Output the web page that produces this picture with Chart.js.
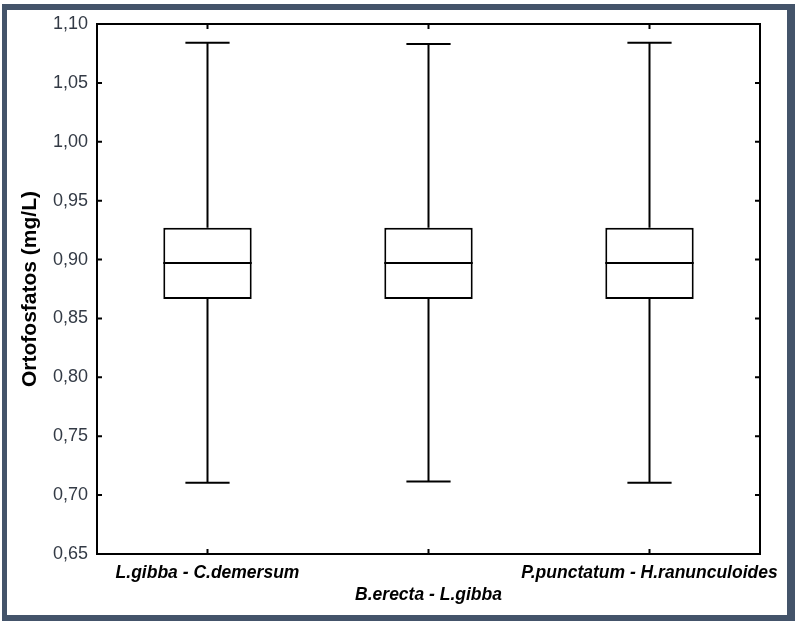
<!DOCTYPE html>
<html>
<head>
<meta charset="utf-8">
<script src="https://cdn.jsdelivr.net/npm/chart.js@4/dist/chart.umd.min.js"></script>
<style>
  html, body { margin: 0; padding: 0; background: #fff; }
  #wrap { position: relative; width: 795px; height: 626px; overflow: hidden; }
  #frame {
    position: absolute; left: 2px; top: 4px; right: 0; bottom: 5px;
    border-style: solid; border-color: #44546a;
    border-width: 6px 8px 6px 5px;
  }
  #chart { position: absolute; left: 0; top: 0; }
</style>
</head>
<body>
<div id="wrap">
  <div id="frame"></div>
  <canvas id="chart" width="795" height="626"></canvas>
</div>
<script>
  // box plot values
  var categories   = ['L.gibba - C.demersum', 'B.erecta - L.gibba', 'P.punctatum - H.ranunculoides'];
  var minValues    = [0.7105, 0.7115, 0.7105];
  var q1Values     = [0.8665, 0.8665, 0.8665];
  var medianValues = [0.897, 0.897, 0.897];
  var q3Values     = [0.927, 0.927, 0.927];
  var maxValues    = [1.084, 1.083, 1.084];
  var yTickValues  = [0.65, 0.70, 0.75, 0.80, 0.85, 0.90, 0.95, 1.00, 1.05, 1.10];
  var yTickLabels  = ['0,65', '0,70', '0,75', '0,80', '0,85', '0,90', '0,95', '1,00', '1,05', '1,10'];

  function tickLabel(v) {
    for (var i = 0; i < yTickValues.length; i++) {
      if (Math.abs(yTickValues[i] - v) < 1e-6) return yTickLabels[i];
    }
    return '';
  }

  // whiskers, medians, frame and inward tick marks
  var boxPlugin = {
    id: 'boxExtras',
    afterDatasetsDraw: function (chart) {
      var ctx = chart.ctx;
      var x = chart.scales.x, y = chart.scales.y;
      var area = chart.chartArea;
      var catW = x.width / categories.length;
      var capHalf = catW * 0.1;
      var boxHalf = catW * 0.2;

      ctx.save();
      ctx.strokeStyle = '#000';
      ctx.lineWidth = 2;
      ctx.lineCap = 'butt';

      categories.forEach(function (c, i) {
        var cx = x.getPixelForValue(i);
        var yMin = y.getPixelForValue(minValues[i]);
        var yMax = y.getPixelForValue(maxValues[i]);
        var yQ1 = y.getPixelForValue(q1Values[i]);
        var yQ3 = y.getPixelForValue(q3Values[i]);
        var yMed = y.getPixelForValue(medianValues[i]);

        ctx.beginPath();
        ctx.moveTo(cx, yQ3); ctx.lineTo(cx, yMax);
        ctx.moveTo(cx, yQ1); ctx.lineTo(cx, yMin);
        ctx.moveTo(cx - capHalf, yMax); ctx.lineTo(cx + capHalf, yMax);
        ctx.moveTo(cx - capHalf, yMin); ctx.lineTo(cx + capHalf, yMin);
        ctx.moveTo(cx - boxHalf, yMed); ctx.lineTo(cx + boxHalf, yMed);
        ctx.stroke();
      });

      // plot frame
      ctx.strokeRect(area.left, area.top, area.right - area.left, area.bottom - area.top);

      // inward ticks
      ctx.beginPath();
      yTickValues.forEach(function (v) {
        var py = y.getPixelForValue(v);
        ctx.moveTo(area.left, py); ctx.lineTo(area.left + 5, py);
        ctx.moveTo(area.right, py); ctx.lineTo(area.right - 5, py);
      });
      categories.forEach(function (c, i) {
        var px = x.getPixelForValue(i);
        ctx.moveTo(px, area.bottom); ctx.lineTo(px, area.bottom - 5);
        ctx.moveTo(px, area.top); ctx.lineTo(px, area.top + 5);
      });
      ctx.stroke();
      ctx.restore();
    }
  };

  new Chart(document.getElementById('chart'), {
    type: 'bar',
    data: {
      labels: categories,
      datasets: [{
        data: categories.map(function (c, i) { return [q1Values[i], q3Values[i]]; }),
        backgroundColor: '#ffffff',
        borderColor: '#000000',
        borderWidth: 2,
        borderSkipped: false,
        barPercentage: 0.4,
        categoryPercentage: 1.0
      }]
    },
    plugins: [boxPlugin],
    options: {
      responsive: false,
      animation: false,
      devicePixelRatio: 1,
      layout: { padding: { top: 24, right: 35, left: 0, bottom: 0 }, autoPadding: false },
      plugins: { legend: { display: false }, tooltip: { enabled: false } },
      scales: {
        x: {
          grid: { display: false, drawTicks: false },
          border: { display: false },
          afterFit: function (s) { s.height = 72; },
          ticks: {
            autoSkip: false,
            maxRotation: 0,
            minRotation: 0,
            padding: 8,
            color: '#000',
            font: { family: 'Arial, "Liberation Sans", sans-serif', size: 17.5, weight: 'bold', style: 'italic', lineHeight: 1.27 },
            callback: function (v, i) { return i % 2 === 1 ? ['', categories[i]] : categories[i]; }
          }
        },
        y: {
          min: 0.65,
          max: 1.10,
          grid: { display: false, drawTicks: false },
          border: { display: false },
          afterFit: function (s) { s.width = 97; },
          afterBuildTicks: function (s) {
            s.ticks = yTickValues.map(function (v) { return { value: v }; });
          },
          ticks: {
            padding: 9,
            color: '#333a45',
            font: { family: 'Arial, "Liberation Sans", sans-serif', size: 18 },
            callback: function (v) { return tickLabel(v); }
          },
          title: {
            display: true,
            text: 'Ortofosfatos (mg/L)',
            color: '#000',
            font: { family: 'Arial, "Liberation Sans", sans-serif', size: 21, weight: 'bold' },
            padding: { top: 18, bottom: 0 }
          }
        }
      }
    }
  });
</script>
</body>
</html>
